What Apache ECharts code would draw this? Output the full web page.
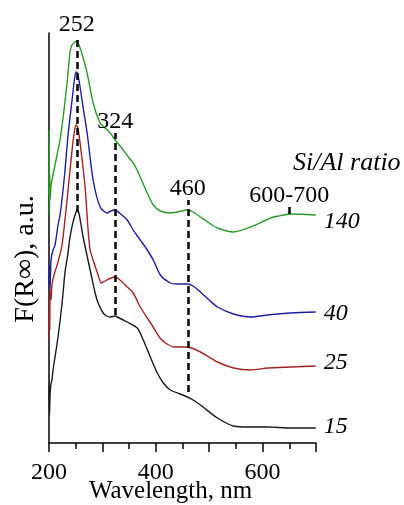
<!DOCTYPE html>
<html>
<head>
<meta charset="utf-8">
<script src="https://cdn.jsdelivr.net/npm/echarts@6/dist/echarts.min.js"></script>
<style>
html,body{margin:0;padding:0;background:#fff;}
#chart{width:404px;height:505px;}
</style>
</head>
<body>
<div id="chart"></div>
<script>
// Wavelength (nm) and F(R∞) (a.u.)
var wl140 = [200,200.5,201,201.5,202,204,207.5,215,220.7,227,233.8,239.4,243,248.8,252,258.2,264,271.4,282.6,295.8,305,314.6,323.9,339,350,357.7,365,370.9,384,395.3,408.5,427.2,440,459.2,470,483.6,500,515.5,545.5,577.5,615,630,652.6,699.5];
var f140  = [2.48,3.13,2.28,2.68,2.43,2.58,2.68,2.88,3.03,3.28,3.60,3.91,3.98,4.01,4.02,3.95,3.85,3.70,3.40,3.20,3.15,3.10,3.03,2.93,2.85,2.80,2.73,2.66,2.50,2.38,2.32,2.30,2.31,2.33,2.31,2.26,2.20,2.15,2.11,2.16,2.25,2.27,2.29,2.28];

var wl40 = [200,201,202,203.8,207.5,211.3,216.9,220.7,226.3,230,235.7,243.2,248,251,254,258.2,264,271.4,282.6,295.8,308.9,316,323.9,332,346.5,357.7,365.3,375,384,395.3,408.5,427.2,440,459.2,470,483.6,500,515.5,545.5,577.5,609.4,652.6,699.5];
var f40  = [1.58,1.78,1.53,1.83,1.93,1.98,2.18,2.28,2.53,2.73,3.08,3.43,3.65,3.71,3.68,3.56,3.35,3.10,2.63,2.36,2.30,2.32,2.33,2.30,2.23,2.13,2.07,2.00,1.93,1.83,1.68,1.60,1.59,1.59,1.57,1.51,1.43,1.36,1.29,1.26,1.28,1.30,1.31];

var wl25 = [200,200.7,201.5,202,203.8,205.6,209.4,216.9,224.4,233.8,243.2,248,251,254,258.2,267.6,273.2,277,282.6,292,298,305,316,324,335,346.5,357.7,370.9,395,408,421,435,459.2,483.6,515.5,545.5,577.5,609.4,652.6,699.5];
var f25  = [1.03,1.43,1.13,1.53,1.43,1.58,1.68,1.81,1.98,2.43,2.93,3.13,3.18,3.15,3.00,2.56,2.13,1.93,1.83,1.68,1.60,1.62,1.65,1.66,1.62,1.56,1.50,1.36,1.16,1.05,0.99,0.96,0.96,0.91,0.81,0.75,0.73,0.75,0.76,0.77];

var wl15 = [200,200.5,201,202,203.8,205.6,207.5,211.3,216.9,222,226,230,235,239.4,245,250,252.6,256,263.9,277,286.4,292,301.4,308,314.6,323.9,327.7,339,346.5,365.3,376.5,389.7,402.8,414.1,427.2,446,459.2,470,483.6,515.5,545.5,577.5,609.4,652.6,699.5];
var f15  = [0.43,0.58,0.28,0.48,0.60,0.63,0.73,0.86,1.06,1.28,1.48,1.71,1.88,2.06,2.21,2.30,2.33,2.30,2.06,1.73,1.50,1.40,1.30,1.27,1.26,1.27,1.26,1.23,1.21,1.15,1.03,0.86,0.70,0.60,0.53,0.49,0.46,0.43,0.38,0.25,0.17,0.16,0.16,0.15,0.15];

var ratios = ['140','40','25','15'];
var colors = ['#2a9a2a','#1e1ea0','#a32222','#1a1a1a'];

// Peak guide lines: position (nm), lower and upper value, label
var peakPos   = [252, 324, 460, 650];
var peakLow   = [2.31, 1.28, 0.51, 2.29];
var peakHigh  = [4.07, 3.10, 2.43, 2.36];
var peakLabel = ['252','324','460','600-700'];

// x-axis tick labels shown
var xLabels = [200, 400, 600];

var SERIF = '"Liberation Serif","DejaVu Serif",serif';

function pairs(x, y){ return x.map(function(v,i){ return [v, y[i]]; }); }

var datasets = [pairs(wl140,f140), pairs(wl40,f40), pairs(wl25,f25), pairs(wl15,f15)];
var endOffsets = [[4,7],[4,2],[4,-3],[4,-1]];

var series = datasets.map(function(d, i){
  return {
    name: ratios[i],
    type: 'line',
    data: d,
    showSymbol: false,
    smooth: 0.25,
    lineStyle: {color: colors[i], width: 1.4},
    itemStyle: {color: colors[i]},
    endLabel: {
      show: true,
      formatter: ratios[i],
      fontFamily: SERIF,
      fontStyle: 'italic',
      fontSize: 24,
      color: '#000',
      distance: 4,
      offset: endOffsets[i]
    },
    silent: true,
    z: 3
  };
});

var guideData = peakPos.map(function(p, i){
  return [
    {coord: [p, peakLow[i]]},
    {coord: [p, peakHigh[i]], label: {formatter: peakLabel[i]}}
  ];
});

series.push({
  name: 'guides',
  type: 'line',
  data: [],
  silent: true,
  z: 4,
  markLine: {
    silent: true,
    symbol: ['none','none'],
    animation: false,
    lineStyle: {color: '#000', width: 2.5, type: [7,4]},
    label: {
      show: true,
      position: 'end',
      distance: -1,
      fontFamily: SERIF,
      fontSize: 24,
      color: '#000'
    },
    data: guideData
  }
});

var chart = echarts.init(document.getElementById('chart'), null, {renderer: 'canvas'});
chart.setOption({
  animation: false,
  backgroundColor: '#fff',
  grid: {left: 49, right: 88, top: 33, bottom: 62, containLabel: false, outerBoundsMode: 'none'},
  xAxis: {
    type: 'value',
    min: 200, max: 700, interval: 100,
    name: 'Wavelength, nm',
    nameLocation: 'middle',
    nameGap: 36,
    nameMoveOverlap: false,
    nameTextStyle: {fontFamily: SERIF, fontSize: 25, color: '#000', padding: [0, 24, 0, 0]},
    axisLine: {show: true, lineStyle: {color: '#000', width: 1.5}},
    axisTick: {show: true, length: 9, lineStyle: {color: '#000', width: 1.5}},
    minorTick: {show: true, splitNumber: 2, length: 6, lineStyle: {color: '#000', width: 1.5}},
    splitLine: {show: false},
    axisLabel: {
      fontFamily: SERIF, fontSize: 24, color: '#000', margin: 18,
      formatter: function(v){ return xLabels.indexOf(v) >= 0 ? String(v) : ''; }
    }
  },
  yAxis: {
    type: 'value',
    min: 0, max: 4.1,
    name: 'F(R\u221E), a.u.',
    nameLocation: 'middle',
    nameGap: 9,
    nameMoveOverlap: false,
    nameTextStyle: {fontFamily: SERIF, fontSize: 28, color: '#000', padding: [0, 42, 0, 0]},
    axisLine: {show: true, lineStyle: {color: '#000', width: 1.5}},
    axisTick: {show: false},
    axisLabel: {show: false},
    splitLine: {show: false}
  },
  graphic: [{
    type: 'text',
    left: 293, top: 150,
    style: {text: 'Si/Al ratio', fontFamily: SERIF, fontStyle: 'italic', fontSize: 26, fill: '#000'}
  }],
  series: series
});
</script>
</body>
</html>
